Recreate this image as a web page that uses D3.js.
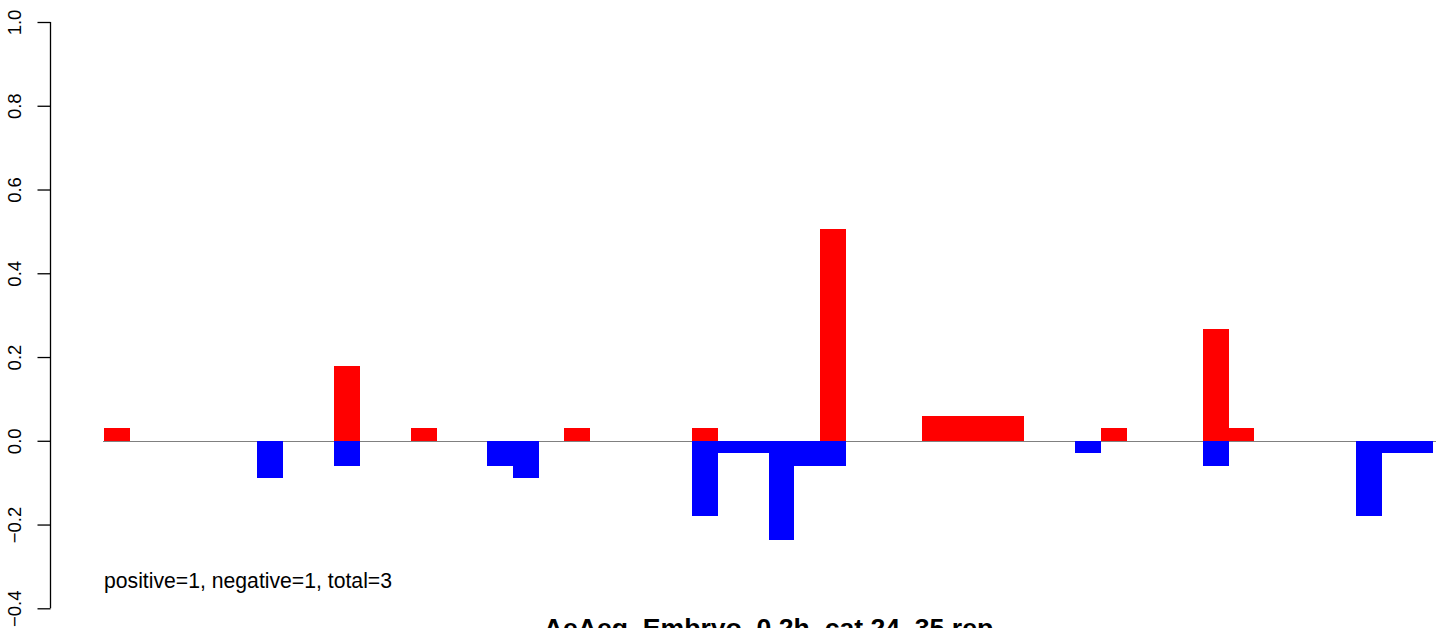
<!DOCTYPE html>
<html>
<head>
<meta charset="utf-8">
<script src="https://cdn.jsdelivr.net/npm/d3@7"></script>
<style>
  html, body { margin: 0; padding: 0; background: #fff; }
  svg { display: block; }
  text { font-family: "Liberation Sans", Arial, Helvetica, sans-serif; }
</style>
</head>
<body>
<svg id="chart" width="1436" height="628"></svg>
<script>
// ---- data ----
const slots = [
  1, 2, 3, 4, 5, 6, 7, 8, 9, 10, 11, 12, 13,
  14, 15, 16, 17, 18, 19, 20, 21, 22, 23, 24, 25, 26,
  27, 28, 29, 30, 31, 32, 33, 34, 35, 36, 37, 38, 39,
  40, 41, 42, 43, 44, 45, 46, 47, 48, 49, 50, 51, 52
];
const positiveValues = [
  0.03, 0, 0, 0, 0, 0, 0, 0, 0, 0.178, 0, 0, 0.03,
  0, 0, 0, 0, 0, 0.03, 0, 0, 0, 0, 0.03, 0, 0,
  0, 0, 0.505, 0, 0, 0, 0.059, 0.059, 0.059, 0.059, 0, 0, 0,
  0.03, 0, 0, 0, 0.266, 0.03, 0, 0, 0, 0, 0, 0, 0
];
const negativeValues = [
  0, 0, 0, 0, 0, 0, -0.089, 0, 0, -0.061, 0, 0, 0,
  0, 0, -0.061, -0.089, 0, 0, 0, 0, 0, 0, -0.18, -0.029, -0.029,
  -0.237, -0.06, -0.06, 0, 0, 0, 0, 0, 0, 0, 0, 0, -0.029,
  0, 0, 0, 0, -0.06, 0, 0, 0, 0, 0, -0.18, -0.029, -0.029
];
const yTicks = [-0.4, -0.2, 0.0, 0.2, 0.4, 0.6, 0.8, 1.0];
const yTickLabels = ["\u22120.4", "\u22120.2", "0.0", "0.2", "0.4", "0.6", "0.8", "1.0"];
const noteText = "positive=1, negative=1, total=3";
const titleText = "AeAeg_Embryo_0.2h_cat 24_35 rep";

// ---- layout ----
const svg = d3.select("#chart");
const barsLeft = 104, barsRight = 1433;
const plotLeft = 50, plotRight = 1487;

const x = d3.scaleBand().domain(slots).range([barsLeft, barsRight]).padding(0);
const y = d3.scaleLinear().domain([-0.4, 1.0]).range([608.3, 22]);

// baseline
svg.append("line")
  .attr("x1", barsLeft - 1).attr("x2", 1436)
  .attr("y1", Math.round(y(0)) + 0.5).attr("y2", Math.round(y(0)) + 0.5)
  .attr("stroke", "#808080").attr("stroke-width", 1);

// positive bars
svg.append("g").attr("shape-rendering", "crispEdges").selectAll("rect")
  .data(slots.map((s, i) => ({ s, v: positiveValues[i] })).filter(d => d.v > 0))
  .join("rect")
  .attr("x", d => x(d.s))
  .attr("width", x.bandwidth() + 0.4)
  .attr("y", d => y(d.v))
  .attr("height", d => y(0) - y(d.v))
  .attr("fill", "#ff0000");

// negative bars
svg.append("g").attr("shape-rendering", "crispEdges").selectAll("rect")
  .data(slots.map((s, i) => ({ s, v: negativeValues[i] })).filter(d => d.v < 0))
  .join("rect")
  .attr("x", d => x(d.s))
  .attr("width", x.bandwidth() + 0.4)
  .attr("y", y(0))
  .attr("height", d => y(d.v) - y(0))
  .attr("fill", "#0000ff");

// y axis
const yAxis = d3.axisLeft(y)
  .tickValues(yTicks)
  .tickSize(13)
  .tickFormat((d, i) => yTickLabels[i]);
const gy = svg.append("g")
  .attr("transform", `translate(${plotLeft + 0.5},0)`)
  .call(yAxis);
gy.select(".domain").attr("stroke", "#000").attr("stroke-width", 1.3)
  .attr("d", `M0,${y(-0.4)}V${y(1.0)}`);
gy.selectAll(".tick line").attr("stroke", "#000").attr("stroke-width", 1.3);
gy.selectAll(".tick text")
  .attr("x", null).attr("dy", null)
  .attr("transform", "translate(-29.5,0) rotate(-90)")
  .attr("text-anchor", "middle")
  .attr("font-size", 18.5)
  .attr("font-family", "Liberation Sans, Arial, sans-serif")
  .attr("fill", "#000");

// note
svg.append("text")
  .attr("x", barsLeft)
  .attr("y", 588)
  .attr("font-size", 21.2)
  .attr("fill", "#000")
  .text(noteText);

// title (cut by bottom edge as in the reference)
svg.append("text")
  .attr("x", (plotLeft + plotRight) / 2)
  .attr("y", 637)
  .attr("text-anchor", "middle")
  .attr("font-size", 26.6)
  .attr("font-weight", "bold")
  .attr("fill", "#000")
  .text(titleText);
</script>
</body>
</html>
